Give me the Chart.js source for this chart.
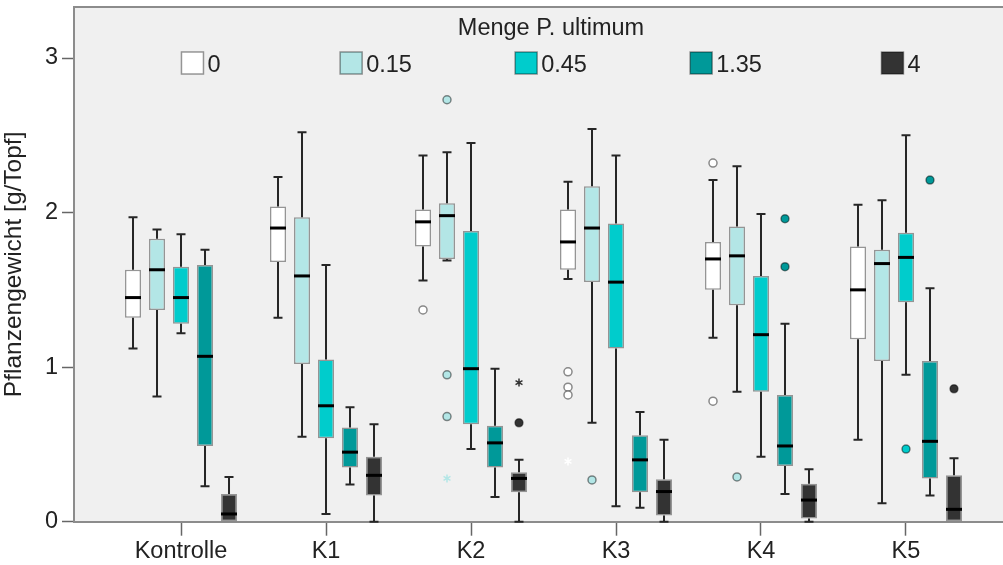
<!DOCTYPE html>
<html><head><meta charset="utf-8">
<script src="https://cdn.jsdelivr.net/npm/chart.js@4/dist/chart.umd.min.js"></script>
<style>html,body{margin:0;padding:0;background:#fff;overflow:hidden}#wrap{width:1003px;height:565px;position:relative}</style>
</head><body><div id="wrap"><canvas id="c"></canvas></div>
<script>
const categories = ['Kontrolle', 'K1', 'K2', 'K3', 'K4', 'K5'];
const seriesNames = ['0', '0.15', '0.45', '1.35', '4'];
const legendTitle = 'Menge P. ultimum';
const yTitle = 'Pflanzengewicht [g/Topf]';
const yTicks = [0, 1, 2, 3];

// [min, q1, median, q3, max] per category
const s0 = [[1.12,1.32,1.45,1.63,1.97],[1.32,1.68,1.90,2.04,2.23],[1.56,1.78,1.94,2.02,2.37],[1.57,1.63,1.81,2.02,2.20],[1.19,1.50,1.70,1.81,2.21],[0.53,1.18,1.50,1.78,2.05]];
const s1 = [[0.81,1.37,1.63,1.83,1.89],[0.55,1.02,1.59,1.97,2.52],[1.69,1.70,1.98,2.06,2.39],[0.64,1.55,1.90,2.17,2.54],[0.84,1.40,1.72,1.91,2.30],[0.12,1.04,1.67,1.76,2.08]];
const s2 = [[1.22,1.28,1.45,1.65,1.86],[0.05,0.54,0.75,1.05,1.66],[0.47,0.63,0.99,1.88,2.45],[0.10,1.12,1.55,1.93,2.37],[0.42,0.84,1.21,1.59,1.99],[0.95,1.42,1.71,1.87,2.50]];
const s3 = [[0.23,0.49,1.07,1.66,1.76],[0.24,0.35,0.45,0.61,0.74],[0.16,0.35,0.51,0.62,0.99],[0.09,0.19,0.40,0.56,0.71],[0.18,0.36,0.49,0.82,1.28],[0.17,0.28,0.52,1.04,1.51]];
const s4 = [[0,0,0.05,0.18,0.29],[0,0.17,0.30,0.42,0.63],[0,0.19,0.28,0.32,0.40],[0,0.04,0.195,0.275,0.53],[0,0.02,0.14,0.245,0.34],[0,0,0.08,0.30,0.41]];

// outliers [categoryIndex, value]
const o0 = [[2,1.37],[3,0.97],[3,0.87],[3,0.82],[4,2.32],[4,0.78]];
const o1 = [[2,2.73],[2,0.95],[2,0.68],[3,0.27],[4,0.29]];
const o2 = [[5,0.47]];
const o3 = [[4,1.96],[4,1.65],[5,2.21]];
const o4 = [[2,0.64],[5,0.86]];
// extreme values (stars)
const e0 = [[3,0.39]];
const e1 = [[2,0.28]];
const e2 = [];
const e3 = [];
const e4 = [[2,0.90]];

const colors = ['#ffffff', '#b3e6e6', '#00cccc', '#009999', '#333333'];
const boxes = [s0, s1, s2, s3, s4];
const outliers = [o0, o1, o2, o3, o4];
const extremes = [e0, e1, e2, e3, e4];
const FONT = '"Liberation Sans", Arial, Helvetica, sans-serif';
const TEXT = '#222';
const FS = 23.5;

const datasets = seriesNames.map((name, j) => ({
  label: name,
  data: categories.map((c, i) => ({ x: i, y: [boxes[j][i][1], boxes[j][i][3]] })),
  backgroundColor: colors[j],
  borderColor: 'rgba(0,0,0,0.38)',
  borderWidth: 1.5,
  borderSkipped: false,
  categoryPercentage: 0.8276,
  barPercentage: 0.667
}));

const boxPlugin = {
  id: 'boxplot',
  beforeDraw(chart) {
    const { ctx, chartArea: a } = chart;
    ctx.save();
    ctx.fillStyle = '#ffffff';
    ctx.fillRect(0, 0, chart.width, chart.height);
    ctx.fillStyle = '#f0f0f0';
    ctx.fillRect(a.left, a.top, a.right - a.left, a.bottom - a.top);
    ctx.strokeStyle = '#8c8c8c';
    ctx.lineWidth = 2;
    ctx.beginPath();
    ctx.moveTo(a.left, a.top);
    ctx.lineTo(a.right, a.top);
    ctx.stroke();
    ctx.restore();
  },
  beforeDatasetsDraw(chart) {
    const { ctx } = chart;
    const ys = chart.scales.y;
    ctx.save();
    ctx.strokeStyle = '#262626';
    ctx.lineWidth = 2;
    boxes.forEach((ser, j) => {
      const meta = chart.getDatasetMeta(j);
      ser.forEach((b, i) => {
        const el = meta.data[i];
        const x = el.x;
        const cap = 4.5;
        const seg = (v1, v2) => {
          if (v1 === v2) return;
          ctx.beginPath();
          ctx.moveTo(x, ys.getPixelForValue(v1));
          ctx.lineTo(x, ys.getPixelForValue(v2));
          ctx.moveTo(x - cap, ys.getPixelForValue(v2));
          ctx.lineTo(x + cap, ys.getPixelForValue(v2));
          ctx.stroke();
        };
        seg(b[1], b[0]);
        seg(b[3], b[4]);
      });
    });
    ctx.restore();
  },
  afterDatasetsDraw(chart) {
    const { ctx } = chart;
    const ys = chart.scales.y;
    ctx.save();
    boxes.forEach((ser, j) => {
      const meta = chart.getDatasetMeta(j);
      ser.forEach((b, i) => {
        const el = meta.data[i];
        const y = ys.getPixelForValue(b[2]);
        ctx.strokeStyle = '#000';
        ctx.lineWidth = 3;
        ctx.beginPath();
        ctx.moveTo(el.x - el.width / 2, y);
        ctx.lineTo(el.x + el.width / 2, y);
        ctx.stroke();
      });
      outliers[j].forEach(([i, v]) => {
        const el = meta.data[i];
        const y = ys.getPixelForValue(v);
        ctx.beginPath();
        ctx.arc(el.x, y, 4, 0, Math.PI * 2);
        ctx.fillStyle = colors[j];
        ctx.fill();
        ctx.strokeStyle = 'rgba(0,0,0,0.45)';
        ctx.lineWidth = 1.5;
        ctx.stroke();
      });
      extremes[j].forEach(([i, v]) => {
        const el = meta.data[i];
        const y = ys.getPixelForValue(v);
        ctx.strokeStyle = colors[j];
        ctx.lineWidth = 1.5;
        ctx.beginPath();
        for (let k = 0; k < 3; k++) {
          const ang = Math.PI / 2 + k * Math.PI / 3;
          ctx.moveTo(el.x - 4 * Math.cos(ang), y - 4 * Math.sin(ang));
          ctx.lineTo(el.x + 4 * Math.cos(ang), y + 4 * Math.sin(ang));
        }
        ctx.stroke();
      });
    });
    ctx.restore();
  },
  afterDraw(chart) {
    const { ctx } = chart;
    ctx.save();
    ctx.font = FS + 'px ' + FONT;
    ctx.fillStyle = TEXT;
    ctx.textAlign = 'center';
    ctx.textBaseline = 'alphabetic';
    const center = 551;
    ctx.fillText(legendTitle, center, 35);
    seriesNames.forEach((n, j) => {
      const cx = center + (j - 2) * 175;
      const tw = ctx.measureText(n).width;
      const w = 22 + 4 + tw;
      const left = cx - w / 2;
      ctx.fillStyle = colors[j];
      ctx.fillRect(left, 52, 22, 22);
      ctx.strokeStyle = 'rgba(0,0,0,0.4)';
      ctx.lineWidth = 1.5;
      ctx.strokeRect(left, 52, 22, 22);
      ctx.fillStyle = TEXT;
      ctx.textAlign = 'left';
      ctx.fillText(n, left + 26, 72);
    });
    ctx.restore();
  }
};

new Chart(document.getElementById('c'), {
  type: 'bar',
  data: { datasets },
  plugins: [boxPlugin],
  options: {
    responsive: true,
    maintainAspectRatio: false,
    animation: false,
    layout: { padding: { top: 7, left: 0, right: 0, bottom: 0 } },
    plugins: { legend: { display: false }, tooltip: { enabled: false } },
    scales: {
      x: {
        type: 'linear',
        offset: false,
        min: -0.738,
        max: 5.669,
        afterBuildTicks(s) { s.ticks = categories.map((c, i) => ({ value: i })); },
        ticks: {
          callback: (v) => categories[v],
          font: { size: FS, family: FONT },
          color: TEXT,
          padding: 2,
          autoSkip: false,
          maxRotation: 0
        },
        grid: { offset: false, drawOnChartArea: false, drawTicks: true, tickLength: 14, color: '#666', tickWidth: 1.5 },
        border: { color: '#8c8c8c', width: 2 },
        afterFit(s) { s.height = 43.3; s.paddingLeft = 0; s.paddingRight = 0; }
      },
      y: {
        min: 0,
        max: 3.33,
        afterBuildTicks(s) { s.ticks = yTicks.map(v => ({ value: v })); },
        ticks: { font: { size: FS, family: FONT }, color: TEXT, padding: 4 },
        grid: { drawOnChartArea: false, drawTicks: true, tickLength: 12, color: '#666', tickWidth: 1.5 },
        border: { color: '#8c8c8c', width: 2 },
        title: { display: true, text: yTitle, font: { size: 24.5, family: FONT }, color: TEXT, padding: 0 },
        afterFit(s) { s.width = 74; s.paddingTop = 0; s.paddingBottom = 0; }
      }
    }
  }
});
</script>
</body></html>
